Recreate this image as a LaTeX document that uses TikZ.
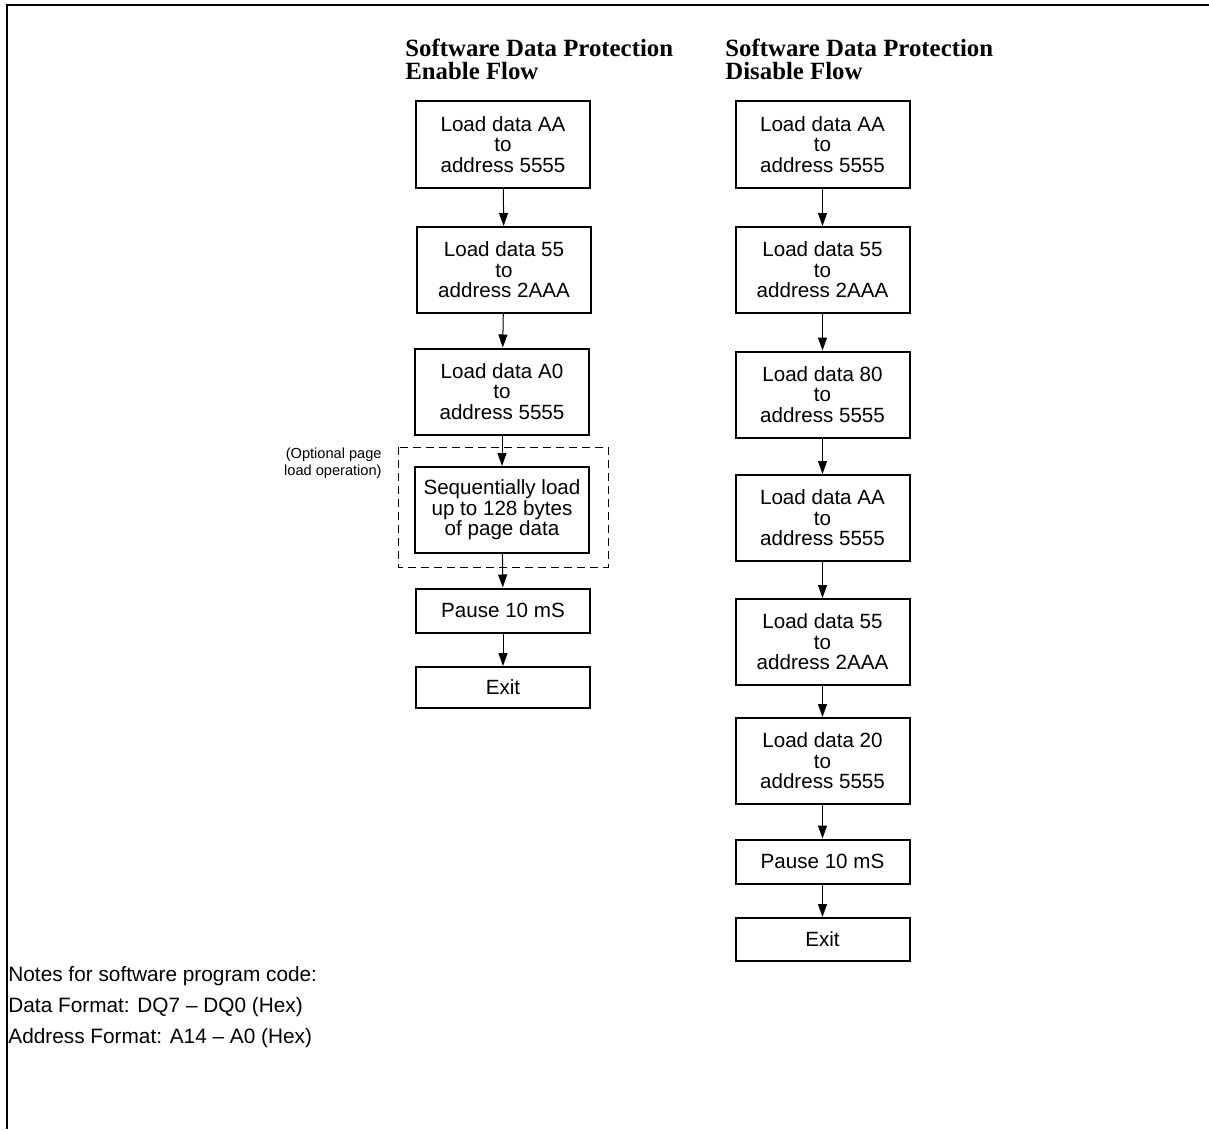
\documentclass[tikz,border=0pt]{standalone}
\usepackage{fontspec}
\setmainfont{Liberation Sans}
\newfontfamily\titlefont{Liberation Serif}
\usetikzlibrary{arrows.meta}
\begin{document}
\begin{tikzpicture}[x=0.5pt,y=-0.5pt,
  box/.style={draw, line width=1pt, minimum width=87pt, align=center, inner sep=0pt,
    font=\fontsize{10.3pt}{10.3pt}\selectfont},
  tall/.style={box, minimum height=43pt},
  short/.style={box, minimum height=22pt},
  flow/.style={-{Triangle[length=6.5pt,width=4.5pt]}, line width=0.5pt},
  ttl/.style={anchor=north west, align=left, inner sep=0pt,
    font=\titlefont\bfseries\fontsize{12.4pt}{11.5pt}\selectfont},
  note/.style={anchor=west, inner sep=0pt, font=\fontsize{10.4pt}{11pt}\selectfont}]
\useasboundingbox (0,0) rectangle (1209,1129);
\draw[line width=1pt] (7,1129) -- (7,5) -- (1209,5);

% titles
\node[ttl] (t1) at (405,39) {Software Data Protection\\Enable Flow};
\node[ttl] (t2) at (725,39) {Software Data Protection\\Disable Flow};

% enable flow
\node[tall] (e1) at (503,144.5) {Load data AA\\to\\address 5555};
\node[tall] (e2) at (504,270) {Load data 55\\to\\address 2AAA};
\node[tall] (e3) at (502,391.5) {Load data A0\\to\\address 5555};
\node[tall] (e4) at (502,510) {Sequentially load\\up to 128 bytes\\of page data};
\node[short] (e5) at (503,610.5) {Pause 10 mS};
\node[box, minimum height=20.5pt] (e6) at (503,687.5) {Exit};
\draw[dashed, line width=0.5pt, dash pattern=on 4pt off 2.5pt] (398,447) rectangle (608,567);
\node[anchor=east, align=right, inner sep=0pt, font=\fontsize{7.3pt}{8.6pt}\selectfont] (opt) at (382,463) {(Optional page\\load operation)};
\draw[flow] (e1) -- (e2);
\draw[flow] (e2) -- (e3);
\draw[flow] (e3) -- (e4);
\draw[flow] (e4) -- (e5);
\draw[flow] (e5) -- (e6);

% disable flow
\node[tall] (d1) at (822.5,144.5) {Load data AA\\to\\address 5555};
\node[tall] (d2) at (822.5,270) {Load data 55\\to\\address 2AAA};
\node[tall] (d3) at (822.5,394.5) {Load data 80\\to\\address 5555};
\node[tall] (d4) at (822.5,518) {Load data AA\\to\\address 5555};
\node[tall] (d5) at (822.5,642) {Load data 55\\to\\address 2AAA};
\node[tall] (d6) at (822.5,761) {Load data 20\\to\\address 5555};
\node[short] (d7) at (822.5,861.5) {Pause 10 mS};
\node[box, minimum height=21.5pt] (d8) at (822.5,939.5) {Exit};
\draw[flow] (d1) -- (d2);
\draw[flow] (d2) -- (d3);
\draw[flow] (d3) -- (d4);
\draw[flow] (d4) -- (d5);
\draw[flow] (d5) -- (d6);
\draw[flow] (d6) -- (d7);
\draw[flow] (d7) -- (d8);

% notes
\node[note] (n1) at (8,976) {Notes for software program code:};
\node[note] (n2) at (8,1007) {Data Format: DQ7 -- DQ0 (Hex)};
\node[note] (n3) at (8,1038) {Address Format: A14 -- A0 (Hex)};
\end{tikzpicture}
\end{document}
